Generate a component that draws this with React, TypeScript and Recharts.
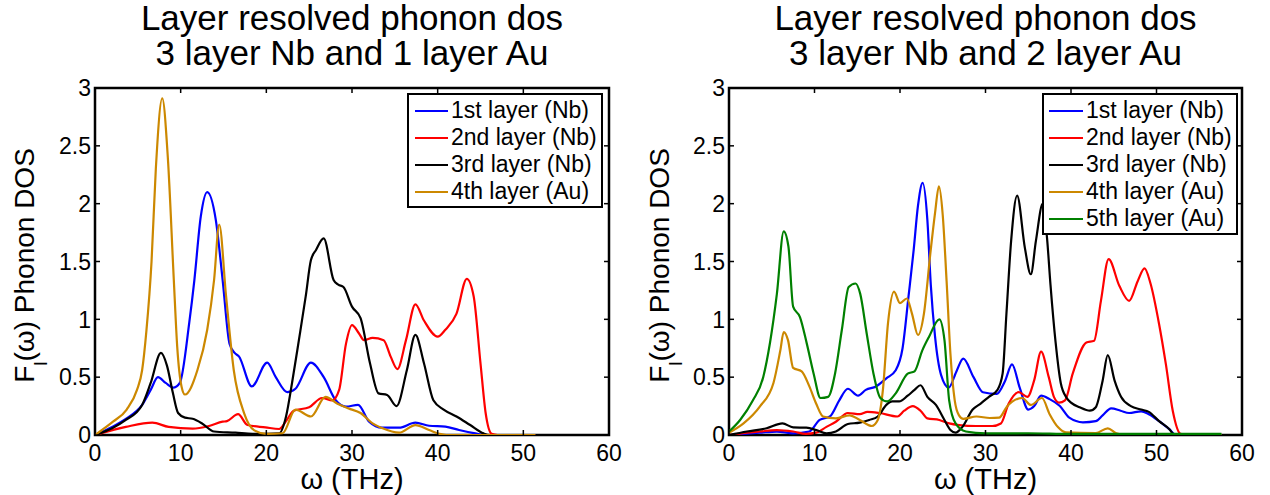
import { LineChart, Line, XAxis, YAxis, ReferenceArea } from "recharts";

// ── Data (x in THz, y = layer phonon DOS) ─────────────────────────────────────

type Pt = [number, number];

const xTicks = [0, 10, 20, 30, 40, 50, 60];
const yTicks = [0, 0.5, 1, 1.5, 2, 2.5, 3];

const titleLine1 = "Layer resolved phonon dos";
const leftTitle = "3 layer Nb and 1 layer Au";
const rightTitle = "3 layer Nb and 2 layer Au";

const seriesNames = ["1st layer (Nb)", "2nd layer (Nb)", "3rd layer (Nb)", "4th layer (Au)", "5th layer (Au)"];
const seriesColors = ["#0000ff", "#ff0000", "#000000", "#cc8800", "#008000"];

// left panel: 3 Nb + 1 Au
const left1st: Pt[] = [
  [0, 0], [2, 0.07], [3.6, 0.14], [5.5, 0.26], [6.5, 0.39], [7.35, 0.5], [8.25, 0.45], [9.2, 0.41],
  [9.9, 0.45], [11, 0.97], [11.6, 1.34], [12.35, 1.89], [13.1, 2.1], [14.1, 1.86], [14.9, 1.34],
  [15.7, 0.79], [16.3, 0.71], [16.8, 0.68], [18.3, 0.42], [20.1, 0.625], [21.1, 0.5], [22.45, 0.37],
  [23.4, 0.4], [25.2, 0.625], [26.7, 0.5], [28.1, 0.3], [29.3, 0.245], [30.7, 0.26], [32, 0.115],
  [33.5, 0.063], [35.5, 0.063], [37.4, 0.107], [39, 0.08], [40.9, 0.072], [42.5, 0.043],
  [44.4, 0.014], [45.6, 0], [51.4, 0],
];
const left2nd: Pt[] = [
  [0, 0], [3.6, 0.07], [6.7, 0.107], [8.6, 0.07], [11.4, 0.055], [13.3, 0.078], [14.9, 0.115],
  [15.4, 0.12], [16.7, 0.18], [17.8, 0.086], [19.9, 0.066], [21.5, 0.052], [22.3, 0.12], [23.2, 0.21],
  [25, 0.24], [26.5, 0.32], [27.7, 0.3], [28.5, 0.39], [29.3, 0.79], [30, 0.95], [30.8, 0.88],
  [31.4, 0.82], [32.4, 0.84], [33.7, 0.82], [34.5, 0.68], [35.3, 0.57], [36.3, 0.82], [37.4, 1.13],
  [38.4, 0.99], [40, 0.85], [40.9, 0.91], [42.2, 1.05], [43.4, 1.35], [44.2, 1.2], [45, 0.62],
  [45.6, 0.19], [46.3, 0.01], [47, 0], [51.4, 0],
];
const left3rd: Pt[] = [
  [0, 0], [2, 0.058], [3.6, 0.13], [5.5, 0.26], [6.5, 0.45], [7.7, 0.71], [8.4, 0.6], [9.1, 0.36],
  [9.7, 0.19], [10.5, 0.15], [11.4, 0.14], [12.5, 0.1], [13.9, 0.03], [16.4, 0.02], [18.4, 0.01],
  [21.5, 0.015], [22.3, 0.16], [23, 0.45], [23.8, 0.82], [24.6, 1.2], [25.2, 1.51], [25.8, 1.6],
  [26.7, 1.7], [27.85, 1.34], [28.4, 1.3], [29, 1.28], [30, 1.11], [31, 1.01], [32.1, 0.62],
  [33.1, 0.36], [34.1, 0.346], [35.2, 0.25], [36.4, 0.56], [37.4, 0.865], [38.4, 0.62], [39.5, 0.3],
  [40.7, 0.22], [42.2, 0.16], [43.8, 0.086], [45.35, 0.014], [46.1, 0], [51.4, 0],
];
const left4th: Pt[] = [
  [0, 0], [2.1, 0.115], [3.7, 0.22], [4.9, 0.39], [5.5, 0.56], [6, 0.9], [6.6, 1.5], [7.1, 2.3],
  [7.85, 2.91], [8.5, 2.4], [9.2, 1.34], [9.6, 0.76], [10.1, 0.42], [10.5, 0.35], [11.95, 0.56],
  [13.1, 0.91], [13.9, 1.34], [14.5, 1.82], [15.3, 1.2], [16.2, 0.56], [17.4, 0.19], [18.6, 0.04],
  [20, 0.01], [21.9, 0.015], [23.4, 0.22], [25.2, 0.16], [26.9, 0.33], [28.3, 0.27], [29.6, 0.23],
  [31, 0.19], [32.4, 0.1], [33.5, 0.06], [35.5, 0.02], [37.4, 0.086], [39, 0.043], [40.2, 0.01],
  [41, 0], [51.4, 0],
];

// right panel: 3 Nb + 2 Au
const right1st: Pt[] = [
  [0, 0], [3.6, 0.02], [5.6, 0.03], [7.5, 0.014], [9.4, 0.03], [10.6, 0.13], [11.8, 0.16], [12.9, 0.3],
  [13.9, 0.4], [15.1, 0.34], [16, 0.39], [17.2, 0.42], [18.4, 0.49], [19.5, 0.56], [20.3, 0.75],
  [21, 1.2], [21.6, 1.6], [22.1, 1.98], [22.65, 2.18], [23.2, 1.86], [23.6, 1.3], [24.1, 0.85],
  [24.8, 0.52], [25.7, 0.41], [26.6, 0.55], [27.4, 0.66], [28.6, 0.5], [29.7, 0.37], [31.3, 0.355],
  [32.3, 0.47], [33.1, 0.61], [34, 0.41], [35, 0.22], [35.7, 0.25], [36.5, 0.34], [37.5, 0.31],
  [38.7, 0.25], [39.8, 0.15], [41.4, 0.11], [42.9, 0.12], [43.7, 0.17], [44.7, 0.23], [45.8, 0.21],
  [46.8, 0.19], [48.2, 0.205], [49.1, 0.18], [50.3, 0.12], [51.5, 0.05], [52.3, 0], [57.6, 0],
];
const right2nd: Pt[] = [
  [0, 0], [3.6, 0.03], [5.6, 0.043], [7.5, 0.03], [9, 0.01], [10.2, 0.02], [11.4, 0.07], [12.5, 0.115],
  [13.9, 0.19], [15.3, 0.18], [16.2, 0.2], [17.6, 0.19], [19.7, 0.16], [20.5, 0.21], [21.5, 0.25],
  [22.4, 0.21], [23.2, 0.144], [24.6, 0.13], [25.75, 0.1], [26.9, 0.086], [28.9, 0.078], [30.8, 0.078],
  [31.8, 0.1], [32.7, 0.27], [33.9, 0.37], [34.9, 0.33], [35.7, 0.475], [36.5, 0.72], [37.4, 0.5],
  [38, 0.33], [38.6, 0.28], [39.3, 0.3], [40.2, 0.53], [41.8, 0.8], [42.7, 0.815], [43.5, 1.16],
  [44.4, 1.52], [45.65, 1.29], [46.8, 1.16], [47.8, 1.33], [48.6, 1.44], [49.3, 1.31], [50.3, 0.96],
  [51.1, 0.61], [51.9, 0.21], [52.8, 0.01], [53.5, 0], [57.6, 0],
];
const right3rd: Pt[] = [
  [0, 0], [2.1, 0.03], [4.4, 0.058], [6.25, 0.1], [7.5, 0.066], [9.05, 0.063], [10.2, 0.043],
  [11.4, 0.014], [12.5, 0.03], [13.9, 0.095], [15.3, 0.107], [16.4, 0.13], [17.4, 0.16], [18.4, 0.26],
  [19.1, 0.29], [19.9, 0.29], [20.9, 0.34], [21.7, 0.39], [22.4, 0.43], [23.2, 0.33], [24.2, 0.26],
  [25.2, 0.13], [25.9, 0.043], [26.5, 0.02], [27.3, 0.07], [28.5, 0.22], [29.4, 0.27], [30.4, 0.33],
  [31.4, 0.39], [32, 0.53], [32.45, 1.05], [33, 1.68], [33.7, 2.07], [34.6, 1.62], [35.3, 1.39],
  [35.9, 1.68], [36.7, 2.0], [37.2, 1.7], [37.6, 1.3], [38.2, 0.8], [38.8, 0.45], [39.5, 0.32],
  [40, 0.28], [41, 0.24], [42.2, 0.21], [42.9, 0.24], [43.7, 0.47], [44.3, 0.69], [45.1, 0.47],
  [45.85, 0.33], [47, 0.25], [48.2, 0.22], [49.1, 0.2], [50.3, 0.12], [51.5, 0.05], [52.1, 0], [57.6, 0],
];
const right4th: Pt[] = [
  [0, 0.02], [1.7, 0.1], [3.6, 0.245], [5.2, 0.45], [6, 0.73], [6.4, 0.89], [6.9, 0.82], [7.5, 0.58],
  [8.5, 0.55], [9.4, 0.42], [10.2, 0.27], [11, 0.16], [12.5, 0.144], [14.1, 0.17], [15.3, 0.13],
  [16.7, 0.078], [17.4, 0.13], [18, 0.39], [18.6, 0.97], [19.3, 1.24], [20, 1.14], [20.8, 1.18],
  [21.4, 1.05], [22.1, 0.865], [22.8, 1.05], [23.55, 1.57], [24.1, 1.92], [24.55, 2.15], [25, 1.9],
  [25.45, 1.33], [25.9, 0.7], [26.4, 0.3], [26.9, 0.17], [27.4, 0.14], [28.95, 0.16], [30.5, 0.147],
  [31.6, 0.15], [32.5, 0.245], [34.3, 0.32], [35.3, 0.26], [36.6, 0.32], [37.5, 0.18], [38.5, 0.066],
  [39.4, 0.023], [42.9, 0.017], [44.3, 0.058], [45.3, 0.014], [46.4, 0], [57.6, 0],
];
const right5th: Pt[] = [
  [0, 0.03], [1.3, 0.13], [2.8, 0.3], [4, 0.5], [4.8, 0.8], [5.6, 1.22], [6.4, 1.76], [6.95, 1.63],
  [7.5, 1.11], [8.3, 1.02], [9.1, 0.79], [9.9, 0.53], [10.7, 0.32], [11.6, 0.33], [12.4, 0.53],
  [13.2, 0.91], [14, 1.28], [14.8, 1.31], [15.35, 1.22], [16.1, 0.88], [16.9, 0.53], [17.7, 0.32],
  [18.5, 0.29], [19.5, 0.36], [20.9, 0.53], [21.7, 0.55], [22.6, 0.73], [23.4, 0.85], [24.6, 1.0],
  [25.2, 0.82], [25.75, 0.3], [26.5, 0.1], [27.7, 0.03], [30, 0.014], [35, 0.015], [40, 0.01], [57.6, 0.01],
];

// ── Layout ────────────────────────────────────────────────────────────────────

const FONT = '"Liberation Sans", Arial, Helvetica, sans-serif';
const PANEL_W = 635;
const H = 495;
const TOP = 88;
const BOTTOM = 435;
const TICK_LEN = 5;

const toRows = (pts: Pt[]) => pts.map(([x, y]) => ({ x, y }));

type PanelProps = {
  left: number;
  plotLeft: number;
  plotRight: number;
  subtitle: string;
  series: Pt[][];
  legend: { left: number; width: number; lineGap: number; lineW: number };
};

function Panel({ left, plotLeft, plotRight, subtitle, series, legend }: PanelProps) {
  const cx = (plotLeft + plotRight) / 2;
  const cy = (TOP + BOTTOM) / 2 + 4;

  const xTick = (p: any) => (
    <g>
      <line x1={p.x} x2={p.x} y1={BOTTOM} y2={BOTTOM - TICK_LEN} stroke="#000" strokeWidth={1.5} />
      <line x1={p.x} x2={p.x} y1={TOP} y2={TOP + TICK_LEN} stroke="#000" strokeWidth={1.5} />
      <text x={p.x} y={BOTTOM + 26} textAnchor="middle" fontSize={23} fontFamily={FONT} fill="#000">
        {p.payload.value}
      </text>
    </g>
  );

  const yTick = (p: any) => (
    <g>
      <line x1={plotLeft} x2={plotLeft + TICK_LEN} y1={p.y} y2={p.y} stroke="#000" strokeWidth={1.5} />
      <line x1={plotRight} x2={plotRight - TICK_LEN} y1={p.y} y2={p.y} stroke="#000" strokeWidth={1.5} />
      <text x={plotLeft - 4} y={p.y} dy="0.36em" textAnchor="end" fontSize={23} fontFamily={FONT} fill="#000">
        {p.payload.value}
      </text>
    </g>
  );

  const xLabel = () => (
    <text x={cx} y={489} textAnchor="middle" fontSize={29} fontFamily={FONT} fill="#000">
      ω (THz)
    </text>
  );

  const yLabel = () => (
    <text
      x={34}
      y={cy}
      transform={`rotate(-90 34 ${cy})`}
      textAnchor="middle"
      fontSize={28}
      fontFamily={FONT}
      fill="#000"
    >
      F<tspan fontSize={19} dy={13}>l</tspan>
      <tspan dy={-13}>(ω) Phonon DOS</tspan>
    </text>
  );

  return (
    <div style={{ position: "absolute", left, top: 0, width: PANEL_W, height: H }}>
      <div
        style={{
          position: "absolute", left: cx - 320, top: 0, width: 640, textAlign: "center",
          fontFamily: FONT, fontSize: 35, lineHeight: "35px", color: "#000", whiteSpace: "nowrap",
        }}
      >
        {titleLine1}
        <br />
        {subtitle}
      </div>

      <LineChart
        width={PANEL_W}
        height={H}
        margin={{ top: TOP, right: PANEL_W - plotRight, bottom: 0, left: 0 }}
        style={{ position: "absolute", left: 0, top: 0 }}
      >
        <XAxis
          type="number"
          dataKey="x"
          domain={[0, 60]}
          ticks={xTicks}
          interval={0}
          height={H - BOTTOM}
          axisLine={false}
          tickLine={false}
          tick={xTick}
          label={xLabel}
          allowDataOverflow
        />
        <YAxis
          type="number"
          domain={[0, 3]}
          ticks={yTicks}
          interval={0}
          width={plotLeft}
          axisLine={false}
          tickLine={false}
          tick={yTick}
          label={yLabel}
          allowDataOverflow
        />
        <ReferenceArea x1={0} x2={60} y1={0} y2={3} fill="none" stroke="#000" strokeWidth={2.5} ifOverflow="visible" />
        {series.map((pts, i) => (
          <Line
            key={seriesNames[i]}
            data={toRows(pts)}
            dataKey="y"
            type="monotone"
            stroke={seriesColors[i]}
            strokeWidth={2.2}
            dot={false}
            activeDot={false}
            isAnimationActive={false}
          />
        ))}
      </LineChart>

      <div
        style={{
          position: "absolute", left: legend.left, top: 93, width: legend.width,
          boxSizing: "border-box", border: "2px solid #000", background: "#fff",
          paddingTop: 2, paddingBottom: 1, fontFamily: FONT, fontSize: 23, color: "#000",
        }}
      >
        {series.map((_, i) => (
          <div key={seriesNames[i]} style={{ display: "flex", alignItems: "center", height: 27 }}>
            <span
              style={{
                display: "inline-block", marginLeft: legend.lineGap, width: legend.lineW,
                height: 2, background: seriesColors[i],
              }}
            />
            <span style={{ marginLeft: 3, whiteSpace: "nowrap", lineHeight: "27px" }}>{seriesNames[i]}</span>
          </div>
        ))}
      </div>
    </div>
  );
}

export default function App() {
  return (
    <div style={{ position: "absolute", left: 0, top: 0, width: 1270, height: H, background: "#fff" }}>
      <Panel
        left={0}
        plotLeft={95}
        plotRight={609}
        subtitle={leftTitle}
        series={[left1st, left2nd, left3rd, left4th]}
        legend={{ left: 407, width: 196, lineGap: 6, lineW: 33 }}
      />
      <Panel
        left={635}
        plotLeft={94}
        plotRight={607}
        subtitle={rightTitle}
        series={[right1st, right2nd, right3rd, right4th, right5th]}
        legend={{ left: 1042 - 635, width: 196, lineGap: 5, lineW: 34 }}
      />
    </div>
  );
}
